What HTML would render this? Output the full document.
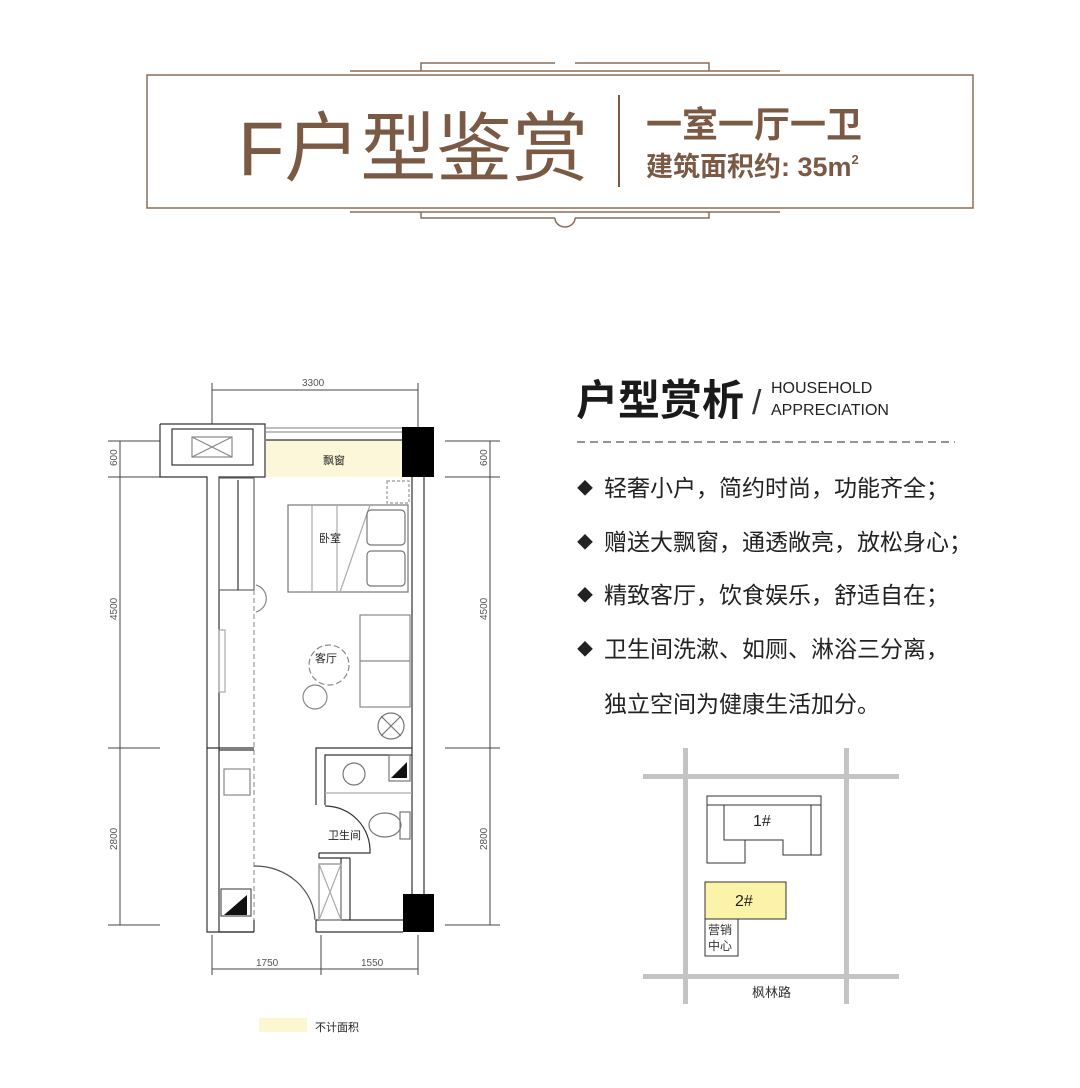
<!DOCTYPE html>
<html><head><meta charset="utf-8"><style>
html,body{margin:0;padding:0;background:#fff;}
svg{display:block;}
text{font-family:"Liberation Sans","Noto Sans CJK SC",sans-serif;}
</style></head><body>
<svg width="1080" height="1088" viewBox="0 0 1080 1088" xmlns="http://www.w3.org/2000/svg">
<!-- Header frame -->
<g stroke="#8a6d58" fill="none" stroke-width="1.5">
<rect x="147" y="75" width="826" height="133"/>
<line x1="350" y1="71" x2="780" y2="71"/>
<polyline points="421,71 421,63 555,63"/><polyline points="575,63 709,63 709,71"/>
<line x1="350" y1="212" x2="780" y2="212"/>
<polyline points="421,212 421,218 555,218"/><polyline points="575,218 709,218 709,212"/>
<path d="M555,218 A10,9 0 0 0 575,218"/>
</g>
<line x1="619" y1="95" x2="619" y2="187" stroke="#7b5a45" stroke-width="2"/>
<text x="238" y="175" font-size="76" fill="#7b5a45">F户型鉴赏</text>
<text x="646" y="137" font-size="36" font-weight="bold" fill="#7b5a45">一室一厅一卫</text>
<text x="646" y="176" font-size="27" font-weight="bold" fill="#7b5a45">建筑面积约: 35m<tspan font-size="13" dy="-12">2</tspan></text>

<!-- Right text -->
<text x="576" y="415" font-size="42" font-weight="bold" fill="#1a1a1a">户型赏析</text>
<text x="752" y="414" font-size="34" fill="#333">/</text>
<text x="771" y="393" font-size="16" fill="#222">HOUSEHOLD</text>
<text x="771" y="415" font-size="16" fill="#222">APPRECIATION</text>
<line x1="577" y1="442" x2="955" y2="442" stroke="#555" stroke-width="1.3" stroke-dasharray="8,5"/>
<g font-size="23" fill="#222">
<text x="577" y="494" font-size="16">◆</text><text x="604" y="496">轻奢小户，简约时尚，功能齐全；</text>
<text x="577" y="548" font-size="16">◆</text><text x="604" y="550">赠送大飘窗，通透敞亮，放松身心；</text>
<text x="577" y="601" font-size="16">◆</text><text x="604" y="603">精致客厅，饮食娱乐，舒适自在；</text>
<text x="577" y="655" font-size="16">◆</text><text x="604" y="657">卫生间洗漱、如厕、淋浴三分离，</text>
<text x="604" y="712">独立空间为健康生活加分。</text>
</g>

<!-- Map -->
<g fill="#c4c4c4">
<rect x="683" y="748" width="5" height="256"/>
<rect x="844" y="748" width="5" height="256"/>
<rect x="643" y="774" width="256" height="5"/>
<rect x="643" y="974" width="256" height="5"/>
</g>
<g stroke="#333" stroke-width="1" fill="none">
<rect x="707" y="796" width="114" height="9"/>
<path d="M707,805 V863 H745 V840 H783 V855 H821 V805"/>
<path d="M724,805 V840 H745"/>
<path d="M811,805 V855"/>
<rect x="705" y="882" width="81" height="37" fill="#fbf3a8"/>
<rect x="705" y="919" width="33" height="37"/>
</g>
<text x="753" y="826" font-size="16" fill="#222">1#</text>
<text x="735" y="906" font-size="16" fill="#222">2#</text>
<text x="708" y="934" font-size="12" fill="#333">营销</text>
<text x="708" y="950" font-size="12" fill="#333">中心</text>
<text x="752" y="997" font-size="13" fill="#333">枫林路</text>

<!-- Floor plan -->
<g stroke="#444" stroke-width="1" fill="none">
<line x1="212" y1="390" x2="418" y2="390"/>
<line x1="212" y1="383" x2="212" y2="424"/><line x1="418" y1="383" x2="418" y2="427"/>
<line x1="212" y1="969" x2="418" y2="969"/>
<line x1="212" y1="935" x2="212" y2="975"/><line x1="321" y1="935" x2="321" y2="975"/><line x1="418" y1="935" x2="418" y2="975"/>
<line x1="120" y1="441" x2="120" y2="925"/>
<line x1="108" y1="441" x2="160" y2="441"/><line x1="108" y1="477" x2="160" y2="477"/>
<line x1="108" y1="748" x2="160" y2="748"/><line x1="108" y1="925" x2="160" y2="925"/>
<line x1="490" y1="441" x2="490" y2="925"/>
<line x1="445" y1="441" x2="500" y2="441"/><line x1="445" y1="477" x2="500" y2="477"/>
<line x1="445" y1="748" x2="500" y2="748"/><line x1="445" y1="925" x2="500" y2="925"/>
</g>
<g font-size="10" fill="#555">
<text x="302" y="386">3300</text>
<text x="256" y="966">1750</text>
<text x="361" y="966">1550</text>
<text transform="translate(117,466) rotate(-90)">600</text>
<text transform="translate(117,620) rotate(-90)">4500</text>
<text transform="translate(117,850) rotate(-90)">2800</text>
<text transform="translate(487,466) rotate(-90)">600</text>
<text transform="translate(487,620) rotate(-90)">4500</text>
<text transform="translate(487,850) rotate(-90)">2800</text>
</g>
<rect x="266" y="440" width="136" height="37" fill="#fcf7d8"/>
<g stroke="#333" stroke-width="1.2" fill="none">
<path d="M160,424 H265 V477 H219 V932 H254"/>
<path d="M160,424 V477 H207 V932 H254"/>
<rect x="172" y="429" width="81" height="36"/>
<rect x="192" y="437" width="40" height="20" stroke="#888"/>
<path d="M192,437 L232,457 M232,437 L192,457" stroke="#888"/>
<line x1="266" y1="428" x2="402" y2="428" stroke="#999"/>
<line x1="266" y1="432" x2="402" y2="432" stroke="#999"/>
<line x1="266" y1="440" x2="402" y2="440"/>
<path d="M412,477 V894 M424,477 V894"/>
<path d="M316,932 H403 M316,920 H403 M316,920 V932"/>
<path d="M254,932 V920"/>
<rect x="219" y="478" width="35" height="112" stroke="#666"/>
<line x1="238" y1="480" x2="238" y2="590" stroke="#333"/>
<line x1="254" y1="590" x2="254" y2="920" stroke="#999" stroke-dasharray="5,3"/>
<rect x="288" y="505" width="120" height="87" stroke="#777"/>
<line x1="312" y1="505" x2="312" y2="592" stroke="#aaa"/>
<line x1="337" y1="505" x2="337" y2="592" stroke="#aaa"/>
<line x1="370" y1="505" x2="340" y2="592" stroke="#aaa"/>
<rect x="367" y="510" width="38" height="35" rx="4" stroke="#777"/>
<rect x="367" y="551" width="38" height="35" rx="4" stroke="#777"/>
<rect x="387" y="481" width="22" height="22" stroke="#999" stroke-dasharray="3,2"/>
<rect x="360" y="615" width="50" height="92" stroke="#888"/>
<line x1="360" y1="661" x2="410" y2="661" stroke="#888"/>
<circle cx="329" cy="665" r="20" stroke="#888" stroke-dasharray="6,3"/>
<circle cx="315" cy="697" r="12" stroke="#888"/>
<circle cx="391" cy="726" r="13" stroke="#777"/>
<path d="M381,716 L401,736 M401,716 L381,736" stroke="#777"/>
<path d="M256,585 A14,14 0 0 1 256,612" stroke="#888"/>
<rect x="219" y="630" width="6" height="62" stroke="#aaa"/>
<path d="M316,805 V748 H412 M325,805 V755 H412"/>
<line x1="325" y1="793" x2="412" y2="793" stroke="#aaa"/>
<circle cx="354" cy="774" r="11" stroke="#777"/>
<rect x="389" y="755" width="21" height="26" stroke="#777"/>
<path d="M391,778 L407,778 L407,762 Z" fill="#111" stroke="none"/>
<ellipse cx="385" cy="825" rx="16" ry="12" stroke="#777"/>
<rect x="400" y="812" width="10" height="27" stroke="#777"/>
<path d="M325,806 A45,45 0 0 1 370,853 H319"/>
<path d="M319,853 V858 H341 V920 M350,858 V920 M341,858 H350"/>
<rect x="319" y="864" width="22" height="56" stroke="#888"/>
<path d="M319,864 L341,920 M341,864 L319,920" stroke="#aaa"/>
<line x1="219" y1="750" x2="254" y2="750"/>
<line x1="207" y1="748" x2="254" y2="748"/>
<rect x="224" y="769" width="26" height="26" stroke="#888"/>
<rect x="221" y="889" width="30" height="27" stroke="#555"/>
<path d="M224,915 L247,915 L247,895 Z" fill="#111" stroke="none"/>
<path d="M254,866 A60,56 0 0 1 315,920" stroke="#555"/>
</g>
<rect x="402" y="427" width="32" height="50" fill="#000"/>
<rect x="403" y="894" width="31" height="38" fill="#000"/>
<g font-size="11" fill="#222">
<text x="323" y="464">飘窗</text>
<text x="319" y="542">卧室</text>
<text x="315" y="662">客厅</text>
<text x="328" y="839">卫生间</text>
</g>
<rect x="259" y="1018" width="48" height="14" fill="#fcf7d0"/>
<text x="315" y="1031" font-size="11" fill="#222">不计面积</text>
</svg>
</body></html>
